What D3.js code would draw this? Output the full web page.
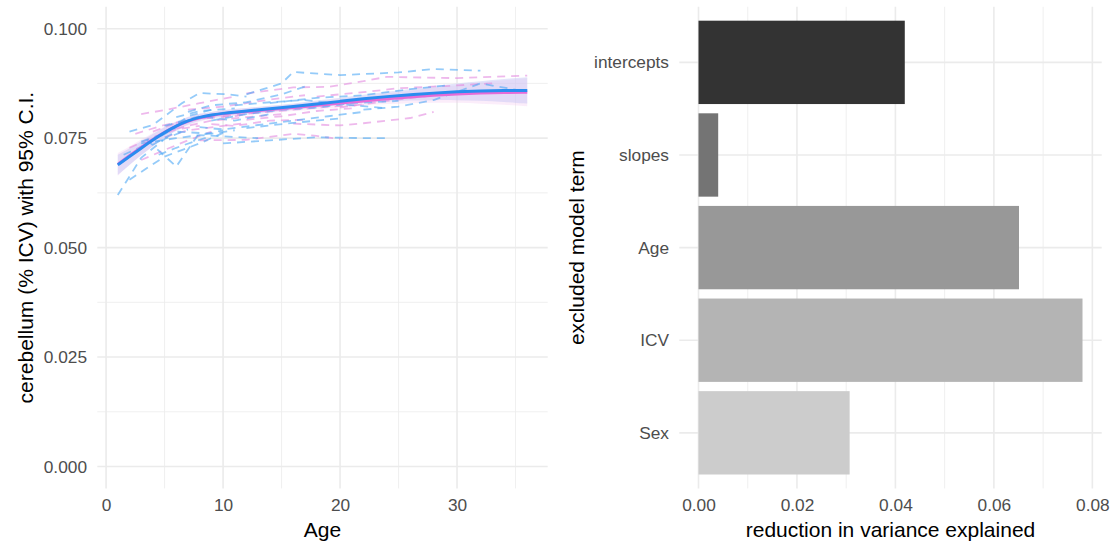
<!DOCTYPE html>
<html>
<head>
<meta charset="utf-8">
<script src="https://cdn.jsdelivr.net/npm/d3@7"></script>
<style>
  body { margin: 0; background: #fff; }
  svg text { font-family: "Liberation Sans", Arial, Helvetica, sans-serif; }
</style>
</head>
<body>
<div id="chart"></div>
<script>
// ---- data: left panel (cerebellum % ICV by age) ----
const fitAge = [1, 2, 3, 4, 5, 6, 7, 8, 9, 10, 12, 14, 16, 18, 20, 22, 24, 26, 28, 30, 32, 34, 36];
const maleFit = [0.0689, 0.0708, 0.0727, 0.0746, 0.0763, 0.0778, 0.0790, 0.0798, 0.0803, 0.0807, 0.0812, 0.0817, 0.0822, 0.0828, 0.0834, 0.0840, 0.0845, 0.0849, 0.0853, 0.0856, 0.0858, 0.0859, 0.0859];
const maleLo = [0.0666, 0.0689, 0.0711, 0.0732, 0.0751, 0.0768, 0.0781, 0.0790, 0.0796, 0.0800, 0.0805, 0.0810, 0.0815, 0.0820, 0.0826, 0.0831, 0.0834, 0.0836, 0.0837, 0.0837, 0.0836, 0.0833, 0.0829];
const maleHi = [0.0712, 0.0727, 0.0743, 0.0760, 0.0775, 0.0788, 0.0799, 0.0806, 0.0810, 0.0814, 0.0819, 0.0824, 0.0829, 0.0836, 0.0842, 0.0849, 0.0856, 0.0862, 0.0869, 0.0875, 0.0880, 0.0885, 0.0889];
const femaleFit = [0.0690, 0.0710, 0.0729, 0.0747, 0.0764, 0.0778, 0.0789, 0.0797, 0.0802, 0.0806, 0.0811, 0.0815, 0.0820, 0.0825, 0.0830, 0.0835, 0.0840, 0.0844, 0.0848, 0.0851, 0.0853, 0.0854, 0.0855];
const femaleLo = [0.0664, 0.0689, 0.0711, 0.0732, 0.0751, 0.0767, 0.0779, 0.0788, 0.0794, 0.0798, 0.0803, 0.0807, 0.0812, 0.0816, 0.0821, 0.0825, 0.0828, 0.0830, 0.0831, 0.0831, 0.0829, 0.0826, 0.0823];
const femaleHi = [0.0716, 0.0731, 0.0747, 0.0762, 0.0777, 0.0789, 0.0799, 0.0806, 0.0810, 0.0814, 0.0819, 0.0823, 0.0828, 0.0834, 0.0839, 0.0845, 0.0852, 0.0858, 0.0865, 0.0871, 0.0877, 0.0882, 0.0887];

// individual subjects, [age, value]
const maleSubjects = [
  [[1, 0.0620], [3, 0.0705], [5, 0.0748], [7, 0.0770]],
  [[2, 0.0655], [5, 0.0708], [8, 0.0738], [10, 0.0762]],
  [[2, 0.0765], [4, 0.0780], [6.5, 0.0830], [8, 0.0853], [10.5, 0.0850], [12, 0.0845]],
  [[3.5, 0.0746], [6, 0.0685], [7.8, 0.0755], [10, 0.0768]],
  [[12, 0.0850], [15, 0.0875], [16, 0.0901], [20, 0.0894], [25, 0.0900], [28, 0.0908], [32, 0.0904]],
  [[22, 0.0815], [25, 0.0822], [28, 0.0837], [32, 0.0875], [36, 0.0856]],
  [[10, 0.0738], [14, 0.0745], [18, 0.0752], [22, 0.0750], [24, 0.0750]],
  [[12, 0.0773], [16, 0.0785], [20, 0.0795]],
  [[5, 0.0778], [8, 0.0800], [11, 0.0790], [14, 0.0805]],
  [[7, 0.0810], [9, 0.0825], [12, 0.0832], [15, 0.0850], [17, 0.0868]],
  [[8, 0.0775], [10, 0.0770], [13, 0.0780], [16, 0.0790], [19, 0.0800], [22, 0.0810]],
  [[4, 0.0735], [6, 0.0765], [9, 0.0760], [11, 0.0768]],
  [[9, 0.0790], [12, 0.0805], [15, 0.0815], [18, 0.0820], [21, 0.0830], [25, 0.0835]],
  [[3, 0.0742], [5, 0.0760], [7, 0.0800], [9, 0.0815]],
  [[14, 0.0830], [18, 0.0842], [22, 0.0848], [26, 0.0862], [29, 0.0870]],
  [[6, 0.0798], [8, 0.0812], [11, 0.0818]],
  [[3, 0.0738], [6, 0.0750], [8, 0.0757], [13, 0.0750]],
  [[4.5, 0.0712], [6, 0.0728], [7.5, 0.0742], [9, 0.0755]],
  [[11, 0.0825], [14, 0.0832], [17, 0.0837], [20, 0.0828], [24, 0.0818]],
  [[1.5, 0.0712], [3, 0.0730], [4.5, 0.0752], [6, 0.0775]]
];
const femaleSubjects = [
  [[3, 0.0805], [5, 0.0814], [8, 0.0830], [11, 0.0845]],
  [[12, 0.0852], [16, 0.0866], [19, 0.0867], [22, 0.0880], [24, 0.0890], [30, 0.0887], [36, 0.0893]],
  [[16, 0.0783], [20, 0.0779], [22, 0.0784], [26, 0.0796], [28, 0.0810]],
  [[18, 0.0845], [22, 0.0855], [25, 0.0864], [29, 0.0869], [33, 0.0875]],
  [[8, 0.0745], [12, 0.0746], [16, 0.0760], [18, 0.0755], [20, 0.0748]],
  [[3, 0.0700], [5, 0.0723], [7, 0.0745], [9, 0.0765]],
  [[4, 0.0765], [6, 0.0785], [8, 0.0795], [11, 0.0800], [13, 0.0810]],
  [[10, 0.0800], [13, 0.0808], [16, 0.0815], [19, 0.0822], [22, 0.0826]],
  [[6, 0.0772], [9, 0.0790], [12, 0.0798], [15, 0.0805]],
  [[20, 0.0820], [24, 0.0835], [28, 0.0848], [32, 0.0855], [36, 0.0860]],
  [[12, 0.0792], [15, 0.0800], [18, 0.0812], [21, 0.0818]],
  [[2, 0.0728], [4, 0.0752], [6, 0.0770], [8, 0.0778]],
  [[7, 0.0815], [10, 0.0822], [14, 0.0838], [17, 0.0848]],
  [[9, 0.0782], [11, 0.0778], [14, 0.0790], [17, 0.0792]],
  [[2.5, 0.0760], [5, 0.0780], [7, 0.0790], [9, 0.0798]],
  [[5, 0.0752], [7, 0.0768], [10, 0.0778], [12, 0.0785]]
];
const ageTicks = [0, 10, 20, 30];
const ageMinor = [5, 15, 25, 35];
const valueTicks = [0, 0.025, 0.05, 0.075, 0.1];
const valueMinor = [0.0125, 0.0375, 0.0625, 0.0875];

// ---- data: right panel ----
const terms = ['intercepts', 'slopes', 'Age', 'ICV', 'Sex'];
const reduction = [0.0419, 0.0040, 0.0651, 0.0780, 0.0307];
const barFills = ['#333333', '#747474', '#989898', '#B4B4B4', '#CCCCCC'];
const redTicks = [0, 0.02, 0.04, 0.06, 0.08];
const redMinor = [0.01, 0.03, 0.05, 0.07];

const width = 1115;
const height = 544;
const gridColor = '#EBEBEB';
const tickColor = '#4D4D4D';

const svg = d3.select('#chart')
  .append('svg')
  .attr('width', width)
  .attr('height', height);

const panelTop = 6.8;
const panelBottom = 488.4;

// ---------- left panel ----------
const x = d3.scaleLinear().domain([-0.75, 37.75]).range([97.3, 547.7]);
const y = d3.scaleLinear().domain([-0.005, 0.105]).range([panelBottom, panelTop]);

const left = svg.append('g');

// gridlines
left.selectAll('.vminor').data(ageMinor).enter().append('line')
  .attr('x1', d => x(d)).attr('x2', d => x(d))
  .attr('y1', panelTop).attr('y2', panelBottom)
  .attr('stroke', gridColor).attr('stroke-width', 0.8);
left.selectAll('.hminor').data(valueMinor).enter().append('line')
  .attr('x1', x.range()[0]).attr('x2', x.range()[1])
  .attr('y1', d => y(d)).attr('y2', d => y(d))
  .attr('stroke', gridColor).attr('stroke-width', 0.8);
left.selectAll('.vmajor').data(ageTicks).enter().append('line')
  .attr('x1', d => x(d)).attr('x2', d => x(d))
  .attr('y1', panelTop).attr('y2', panelBottom)
  .attr('stroke', gridColor).attr('stroke-width', 1.6);
left.selectAll('.hmajor').data(valueTicks).enter().append('line')
  .attr('x1', x.range()[0]).attr('x2', x.range()[1])
  .attr('y1', d => y(d)).attr('y2', d => y(d))
  .attr('stroke', gridColor).attr('stroke-width', 1.6);

// ribbons
const ribbon = (lo, hi) => d3.area()
  .x((d, i) => x(fitAge[i]))
  .y0((d, i) => y(lo[i]))
  .y1((d, i) => y(hi[i]))
  .curve(d3.curveBasis);

left.append('path')
  .attr('d', ribbon(femaleLo, femaleHi)(fitAge))
  .attr('fill', '#F4CCF0').attr('opacity', 0.35);
left.append('path')
  .attr('d', ribbon(maleLo, maleHi)(fitAge))
  .attr('fill', '#C4C4F4').attr('opacity', 0.45);

// subject trajectories
const subjLine = d3.line().x(d => x(d[0])).y(d => y(d[1]));
left.selectAll('.fsub').data(femaleSubjects).enter().append('path')
  .attr('d', subjLine)
  .attr('fill', 'none')
  .attr('stroke', '#E38BE0')
  .attr('stroke-opacity', 0.6)
  .attr('stroke-width', 1.8)
  .attr('stroke-dasharray', '8,6');
left.selectAll('.msub').data(maleSubjects).enter().append('path')
  .attr('d', subjLine)
  .attr('fill', 'none')
  .attr('stroke', '#4FA8F5')
  .attr('stroke-opacity', 0.6)
  .attr('stroke-width', 1.8)
  .attr('stroke-dasharray', '8,6');

// fitted curves
const fitLine = vals => d3.line()
  .x((d, i) => x(fitAge[i]))
  .y((d, i) => y(vals[i]))
  .curve(d3.curveBasis)(fitAge);

left.append('path')
  .attr('d', fitLine(femaleFit))
  .attr('fill', 'none').attr('stroke', '#E66BD8').attr('stroke-width', 3);
left.append('path')
  .attr('d', fitLine(maleFit))
  .attr('fill', 'none').attr('stroke', '#2A8CF0').attr('stroke-width', 3);

// axes
const xAxisL = left.append('g')
  .attr('transform', `translate(0,${panelBottom})`)
  .call(d3.axisBottom(x).tickValues(ageTicks).tickSize(0).tickPadding(10.2).tickFormat(d3.format('d')));
const yAxisL = left.append('g')
  .attr('transform', `translate(${x.range()[0]},0)`)
  .call(d3.axisLeft(y).tickValues(valueTicks).tickSize(0).tickPadding(10.3).tickFormat(d3.format('.3f')));

left.append('text')
  .attr('x', (x.range()[0] + x.range()[1]) / 2)
  .attr('y', 537)
  .attr('text-anchor', 'middle')
  .attr('font-size', 21)
  .text('Age');
left.append('text')
  .attr('transform', `translate(33,${(panelTop + panelBottom) / 2}) rotate(-90)`)
  .attr('text-anchor', 'middle')
  .attr('font-size', 21)
  .text('cerebellum (% ICV) with 95% C.I.');

// ---------- right panel ----------
const xr = d3.scaleLinear().domain([-0.0039, 0.0819]).range([679.3, 1101.7]);
const yr = d3.scalePoint().domain(terms).range([panelTop, panelBottom]).padding(0.6);
const barH = yr.step() * 0.9;

const right = svg.append('g');

right.selectAll('.vminor').data(redMinor).enter().append('line')
  .attr('x1', d => xr(d)).attr('x2', d => xr(d))
  .attr('y1', panelTop).attr('y2', panelBottom)
  .attr('stroke', gridColor).attr('stroke-width', 0.8);
right.selectAll('.vmajor').data(redTicks).enter().append('line')
  .attr('x1', d => xr(d)).attr('x2', d => xr(d))
  .attr('y1', panelTop).attr('y2', panelBottom)
  .attr('stroke', gridColor).attr('stroke-width', 1.6);
right.selectAll('.hmajor').data(terms).enter().append('line')
  .attr('x1', xr.range()[0]).attr('x2', xr.range()[1])
  .attr('y1', d => yr(d)).attr('y2', d => yr(d))
  .attr('stroke', gridColor).attr('stroke-width', 1.6);

right.selectAll('.bar').data(terms).enter().append('rect')
  .attr('x', xr(0))
  .attr('y', d => yr(d) - barH / 2)
  .attr('width', (d, i) => xr(reduction[i]) - xr(0))
  .attr('height', barH)
  .attr('fill', (d, i) => barFills[i]);

const xAxisR = right.append('g')
  .attr('transform', `translate(0,${panelBottom})`)
  .call(d3.axisBottom(xr).tickValues(redTicks).tickSize(0).tickPadding(10.2).tickFormat(d3.format('.2f')));
const yAxisR = right.append('g')
  .attr('transform', `translate(${xr.range()[0]},0)`)
  .call(d3.axisLeft(yr).tickSize(0).tickPadding(10.3));

right.append('text')
  .attr('x', (xr.range()[0] + xr.range()[1]) / 2)
  .attr('y', 537)
  .attr('text-anchor', 'middle')
  .attr('font-size', 21)
  .text('reduction in variance explained');
right.append('text')
  .attr('transform', `translate(584,${(panelTop + panelBottom) / 2}) rotate(-90)`)
  .attr('text-anchor', 'middle')
  .attr('font-size', 21)
  .text('excluded model term');

// axis styling
[xAxisL, yAxisL, xAxisR, yAxisR].forEach(a => {
  a.select('.domain').remove();
  a.selectAll('text')
    .attr('fill', tickColor)
    .attr('font-size', 17.3)
    .style('font-family', '"Liberation Sans", Arial, Helvetica, sans-serif');
});
</script>
</body>
</html>
